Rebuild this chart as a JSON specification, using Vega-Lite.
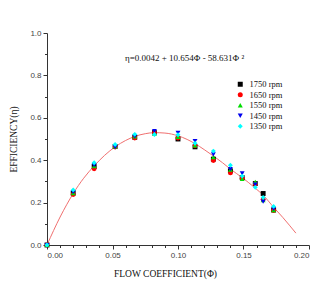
{
  "$schema": "https://vega.github.io/schema/vega-lite/v6.json",
  "width": 311,
  "height": 283,
  "autosize": {"type": "fit", "contains": "padding"},
  "padding": {"left": 8, "top": 29, "right": 1, "bottom": 5},
  "background": "white",
  "config": {
    "view": {"stroke": null},
    "axis": {
      "grid": false,
      "domainColor": "#333333",
      "tickColor": "#333333",
      "labelFont": "Liberation Sans",
      "labelFontSize": 8,
      "labelColor": "#444444",
      "titleFont": "Liberation Serif",
      "titleFontSize": 9.5,
      "titleFontWeight": "normal",
      "titleColor": "#111111"
    }
  },
  "datasets": {
    "curve": [
      {"phi": 0.0, "eta": 0.0},
      {"phi": 0.005, "eta": 0.068},
      {"phi": 0.01, "eta": 0.132},
      {"phi": 0.015, "eta": 0.19},
      {"phi": 0.02, "eta": 0.243},
      {"phi": 0.028, "eta": 0.315},
      {"phi": 0.036, "eta": 0.373},
      {"phi": 0.044, "eta": 0.423},
      {"phi": 0.052, "eta": 0.463},
      {"phi": 0.06, "eta": 0.493},
      {"phi": 0.067, "eta": 0.512},
      {"phi": 0.075, "eta": 0.525},
      {"phi": 0.082, "eta": 0.53},
      {"phi": 0.09, "eta": 0.528},
      {"phi": 0.1, "eta": 0.515},
      {"phi": 0.107, "eta": 0.498},
      {"phi": 0.113, "eta": 0.478},
      {"phi": 0.12, "eta": 0.45},
      {"phi": 0.127, "eta": 0.42},
      {"phi": 0.134, "eta": 0.388},
      {"phi": 0.14, "eta": 0.358},
      {"phi": 0.149, "eta": 0.318},
      {"phi": 0.159, "eta": 0.268},
      {"phi": 0.165, "eta": 0.235},
      {"phi": 0.173, "eta": 0.178},
      {"phi": 0.18, "eta": 0.13},
      {"phi": 0.19, "eta": 0.056}
    ],
    "points": [
      {"rpm": "1750 rpm", "phi": 0.0, "eta": 0.0},
      {"rpm": "1650 rpm", "phi": 0.0, "eta": 0.0},
      {"rpm": "1550 rpm", "phi": 0.0, "eta": 0.0},
      {"rpm": "1450 rpm", "phi": 0.0, "eta": 0.0},
      {"rpm": "1350 rpm", "phi": 0.0, "eta": 0.0},

      {"rpm": "1750 rpm", "phi": 0.020, "eta": 0.245},
      {"rpm": "1750 rpm", "phi": 0.036, "eta": 0.370},
      {"rpm": "1750 rpm", "phi": 0.052, "eta": 0.465},
      {"rpm": "1750 rpm", "phi": 0.067, "eta": 0.508},
      {"rpm": "1750 rpm", "phi": 0.082, "eta": 0.530},
      {"rpm": "1750 rpm", "phi": 0.100, "eta": 0.500},
      {"rpm": "1750 rpm", "phi": 0.113, "eta": 0.463},
      {"rpm": "1750 rpm", "phi": 0.127, "eta": 0.405},
      {"rpm": "1750 rpm", "phi": 0.140, "eta": 0.350},
      {"rpm": "1750 rpm", "phi": 0.149, "eta": 0.318},
      {"rpm": "1750 rpm", "phi": 0.159, "eta": 0.290},
      {"rpm": "1750 rpm", "phi": 0.165, "eta": 0.243},
      {"rpm": "1750 rpm", "phi": 0.173, "eta": 0.165},

      {"rpm": "1650 rpm", "phi": 0.020, "eta": 0.238},
      {"rpm": "1650 rpm", "phi": 0.036, "eta": 0.360},
      {"rpm": "1650 rpm", "phi": 0.052, "eta": 0.462},
      {"rpm": "1650 rpm", "phi": 0.067, "eta": 0.505},
      {"rpm": "1650 rpm", "phi": 0.082, "eta": 0.528},
      {"rpm": "1650 rpm", "phi": 0.100, "eta": 0.505},
      {"rpm": "1650 rpm", "phi": 0.113, "eta": 0.468},
      {"rpm": "1650 rpm", "phi": 0.127, "eta": 0.398},
      {"rpm": "1650 rpm", "phi": 0.140, "eta": 0.340},
      {"rpm": "1650 rpm", "phi": 0.149, "eta": 0.315},
      {"rpm": "1650 rpm", "phi": 0.159, "eta": 0.288},
      {"rpm": "1650 rpm", "phi": 0.165, "eta": 0.215},
      {"rpm": "1650 rpm", "phi": 0.173, "eta": 0.163},

      {"rpm": "1550 rpm", "phi": 0.020, "eta": 0.245},
      {"rpm": "1550 rpm", "phi": 0.036, "eta": 0.372},
      {"rpm": "1550 rpm", "phi": 0.052, "eta": 0.465},
      {"rpm": "1550 rpm", "phi": 0.067, "eta": 0.512},
      {"rpm": "1550 rpm", "phi": 0.082, "eta": 0.525},
      {"rpm": "1550 rpm", "phi": 0.100, "eta": 0.510},
      {"rpm": "1550 rpm", "phi": 0.113, "eta": 0.470},
      {"rpm": "1550 rpm", "phi": 0.127, "eta": 0.415},
      {"rpm": "1550 rpm", "phi": 0.140, "eta": 0.355},
      {"rpm": "1550 rpm", "phi": 0.149, "eta": 0.312},
      {"rpm": "1550 rpm", "phi": 0.159, "eta": 0.298},
      {"rpm": "1550 rpm", "phi": 0.165, "eta": 0.212},
      {"rpm": "1550 rpm", "phi": 0.173, "eta": 0.165},

      {"rpm": "1450 rpm", "phi": 0.020, "eta": 0.250},
      {"rpm": "1450 rpm", "phi": 0.036, "eta": 0.377},
      {"rpm": "1450 rpm", "phi": 0.052, "eta": 0.462},
      {"rpm": "1450 rpm", "phi": 0.067, "eta": 0.512},
      {"rpm": "1450 rpm", "phi": 0.082, "eta": 0.537},
      {"rpm": "1450 rpm", "phi": 0.100, "eta": 0.529},
      {"rpm": "1450 rpm", "phi": 0.113, "eta": 0.490},
      {"rpm": "1450 rpm", "phi": 0.127, "eta": 0.427},
      {"rpm": "1450 rpm", "phi": 0.140, "eta": 0.358},
      {"rpm": "1450 rpm", "phi": 0.149, "eta": 0.338},
      {"rpm": "1450 rpm", "phi": 0.159, "eta": 0.285},
      {"rpm": "1450 rpm", "phi": 0.165, "eta": 0.205},
      {"rpm": "1450 rpm", "phi": 0.173, "eta": 0.170},

      {"rpm": "1350 rpm", "phi": 0.020, "eta": 0.260},
      {"rpm": "1350 rpm", "phi": 0.036, "eta": 0.388},
      {"rpm": "1350 rpm", "phi": 0.052, "eta": 0.474},
      {"rpm": "1350 rpm", "phi": 0.067, "eta": 0.522},
      {"rpm": "1350 rpm", "phi": 0.082, "eta": 0.521},
      {"rpm": "1350 rpm", "phi": 0.100, "eta": 0.520},
      {"rpm": "1350 rpm", "phi": 0.113, "eta": 0.480},
      {"rpm": "1350 rpm", "phi": 0.127, "eta": 0.443},
      {"rpm": "1350 rpm", "phi": 0.140, "eta": 0.376},
      {"rpm": "1350 rpm", "phi": 0.149, "eta": 0.325},
      {"rpm": "1350 rpm", "phi": 0.159, "eta": 0.272},
      {"rpm": "1350 rpm", "phi": 0.165, "eta": 0.224},
      {"rpm": "1350 rpm", "phi": 0.173, "eta": 0.182}
    ],
    "label": [
      {"phi": 0.105, "eta": 0.883, "text": "η=0.0042 + 10.654Φ - 58.631Φ ²"}
    ]
  },
  "encoding": {
    "x": {
      "field": "phi", "type": "quantitative",
      "scale": {"domain": [0, 0.2], "nice": false, "zero": false},
      "axis": {
        "title": "FLOW COEFFICIENT(Φ)",
        "titleX": 118,
        "values": [0, 0.01, 0.02, 0.03, 0.04, 0.05, 0.06, 0.07, 0.08, 0.09, 0.1, 0.11, 0.12, 0.13, 0.14, 0.15, 0.16, 0.17, 0.18, 0.19, 0.2],
        "labelExpr": "abs(datum.value*20 - round(datum.value*20)) < 0.001 ? format(datum.value, '.2f') : ''",
        "tickSize": {"condition": {"test": "abs(datum.value*20 - round(datum.value*20)) < 0.001", "value": 4}, "value": 2.5},
        "labelPadding": 2,
        "titlePadding": 9
      }
    },
    "y": {
      "field": "eta", "type": "quantitative",
      "scale": {"domain": [0, 1], "nice": false},
      "axis": {
        "title": "EFFICIENCY(η)",
        "values": [0, 0.1, 0.2, 0.3, 0.4, 0.5, 0.6, 0.7, 0.8, 0.9, 1.0],
        "labelExpr": "abs(datum.value*5 - round(datum.value*5)) < 0.001 ? format(datum.value, '.1f') : ''",
        "tickSize": {"condition": {"test": "abs(datum.value*5 - round(datum.value*5)) < 0.001", "value": 4}, "value": 2.5},
        "labelPadding": 2,
        "titlePadding": 11
      }
    }
  },
  "layer": [
    {
      "data": {"name": "curve"},
      "mark": {"type": "line", "color": "#f07070", "strokeWidth": 1, "interpolate": "monotone"}
    },
    {
      "data": {"name": "points"},
      "mark": {"type": "point", "filled": true, "opacity": 1, "size": 24},
      "encoding": {
        "color": {
          "field": "rpm", "type": "nominal",
          "scale": {
            "domain": ["1750 rpm", "1650 rpm", "1550 rpm", "1450 rpm", "1350 rpm"],
            "range": ["#000000", "#ff0000", "#00dd00", "#0000ee", "#00ffff"]
          },
          "legend": {
            "title": null,
            "orient": "none",
            "legendX": 189,
            "legendY": 47,
            "labelFont": "Liberation Serif",
            "labelFontSize": 8.5,
            "labelColor": "#111111",
            "symbolSize": 25,
            "rowPadding": 1.5,
            "labelOffset": 5
          }
        },
        "shape": {
          "field": "rpm", "type": "nominal",
          "scale": {
            "domain": ["1750 rpm", "1650 rpm", "1550 rpm", "1450 rpm", "1350 rpm"],
            "range": ["square", "circle", "triangle-up", "triangle-down", "diamond"]
          }
        },
        "order": {"field": "rpm", "sort": "descending"}
      }
    },
    {
      "data": {"name": "label"},
      "mark": {"type": "text", "font": "Liberation Serif", "fontSize": 9, "color": "#111111", "align": "center", "baseline": "middle"},
      "encoding": {"text": {"field": "text"}}
    }
  ]
}
